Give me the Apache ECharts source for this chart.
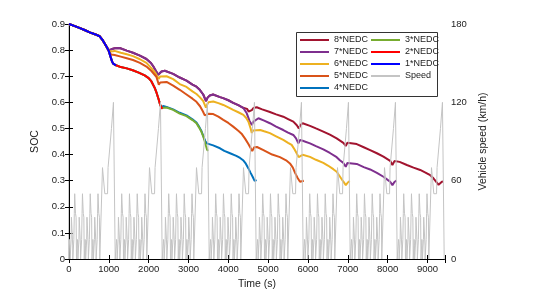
<!DOCTYPE html>
<html>
<head>
<meta charset="utf-8">
<script src="https://cdn.jsdelivr.net/npm/echarts@6/dist/echarts.min.js"></script>
<style>html,body{margin:0;padding:0;background:#fff}#c{width:546px;height:302px}</style>
</head>
<body>
<div id="c"></div>
<script>
// ---- SOC data: [time (s), SOC] ----
const socStart = [[0,0.900],[130,0.893],[260,0.885],[390,0.877],[520,0.868],[650,0.861],[770,0.853],[850,0.837],[940,0.814]];
const soc1 = [[1000,0.796],[1040,0.776],[1080,0.757],[1110,0.748],[1150,0.744],[1180,0.742]];
const soc2 = [[1300,0.735],[1450,0.730],[1600,0.723],[1750,0.714],[1900,0.703],[2000,0.693],[2070,0.680],[2150,0.656],[2200,0.636],[2250,0.612],[2290,0.590],[2330,0.578],[2350,0.576]];
const soc3 = [[2360,0.584],[2450,0.580],[2615,0.571],[2780,0.557],[2950,0.547],[3100,0.532],[3200,0.520],[3260,0.505],[3325,0.487],[3370,0.470],[3409,0.450],[3440,0.433],[3467,0.419],[3490,0.414]];
const soc4 = [[2360,0.586],[2450,0.582],[2615,0.573],[2780,0.560],[2950,0.550],[3100,0.535],[3200,0.523],[3260,0.508],[3325,0.490],[3380,0.468],[3420,0.452],[3460,0.443],[3500,0.440],[3540,0.439],[3620,0.435],[3791,0.424],[3900,0.414],[4043,0.405],[4200,0.395],[4295,0.387],[4380,0.377],[4440,0.365],[4505,0.347],[4560,0.330],[4620,0.312],[4660,0.299],[4690,0.300],[4710,0.302]];
const soc5 = [[1000,0.795],[1060,0.783],[1100,0.780],[1146,0.781],[1300,0.775],[1450,0.769],[1607,0.762],[1780,0.751],[1944,0.737],[2070,0.720],[2193,0.698],[2255,0.668],[2290,0.676],[2322,0.683],[2450,0.678],[2615,0.664],[2780,0.648],[2950,0.630],[3100,0.614],[3200,0.602],[3290,0.585],[3360,0.566],[3409,0.550],[3440,0.543],[3497,0.556],[3622,0.555],[3750,0.545],[3874,0.533],[4000,0.521],[4122,0.507],[4250,0.491],[4332,0.480],[4420,0.461],[4500,0.441],[4560,0.425],[4600,0.413],[4650,0.428],[4720,0.429],[4882,0.417],[5100,0.400],[5296,0.390],[5450,0.378],[5547,0.366],[5620,0.350],[5673,0.331],[5740,0.310],[5800,0.296],[5850,0.295],[5895,0.300]];
const soc6 = [[1000,0.798],[1060,0.795],[1100,0.796],[1146,0.797],[1300,0.790],[1450,0.784],[1607,0.777],[1780,0.765],[1944,0.751],[2050,0.734],[2154,0.716],[2250,0.690],[2290,0.699],[2322,0.704],[2450,0.700],[2615,0.689],[2780,0.670],[2950,0.659],[3100,0.642],[3200,0.632],[3283,0.620],[3370,0.605],[3438,0.580],[3470,0.592],[3497,0.600],[3622,0.603],[3750,0.597],[3874,0.590],[4000,0.581],[4122,0.571],[4250,0.562],[4378,0.552],[4450,0.540],[4505,0.526],[4560,0.500],[4589,0.483],[4620,0.492],[4647,0.498],[4799,0.494],[4900,0.489],[5044,0.482],[5200,0.470],[5380,0.456],[5500,0.445],[5590,0.437],[5660,0.420],[5716,0.405],[5765,0.390],[5800,0.397],[5866,0.399],[6050,0.391],[6200,0.380],[6385,0.368],[6500,0.358],[6636,0.344],[6720,0.334],[6805,0.315],[6880,0.298],[6950,0.283],[7000,0.293],[7048,0.298]];
const soc78 = [[1000,0.800],[1060,0.803],[1100,0.806],[1146,0.807],[1272,0.808],[1450,0.798],[1607,0.790],[1780,0.779],[1944,0.766],[2050,0.752],[2111,0.739],[2180,0.721],[2240,0.706],[2280,0.713],[2322,0.718],[2405,0.721],[2615,0.709],[2780,0.695],[2950,0.683],[3100,0.668],[3200,0.660],[3283,0.648],[3370,0.630],[3440,0.605],[3480,0.618],[3535,0.626],[3618,0.630],[3791,0.620],[3870,0.616],[4000,0.608],[4122,0.598],[4250,0.589],[4373,0.579],[4420,0.578]];
const soc7 = [[4463,0.558],[4530,0.530],[4589,0.513],[4630,0.526],[4756,0.539],[4900,0.530],[5044,0.520],[5200,0.507],[5380,0.494],[5500,0.484],[5632,0.475],[5700,0.462],[5758,0.443],[5800,0.456],[5866,0.453],[6050,0.443],[6200,0.432],[6385,0.420],[6550,0.406],[6720,0.390],[6800,0.378],[6888,0.368],[6948,0.353],[6990,0.368],[7014,0.373],[7224,0.364],[7400,0.352],[7560,0.343],[7730,0.330],[7895,0.315],[8000,0.303],[8063,0.296],[8120,0.283],[8170,0.295],[8220,0.300]];
const soc8 = [[4470,0.575],[4510,0.565],[4547,0.558],[4590,0.570],[4630,0.578],[4714,0.581],[4850,0.573],[5044,0.563],[5200,0.554],[5380,0.545],[5500,0.536],[5632,0.526],[5720,0.512],[5770,0.500],[5810,0.513],[5866,0.520],[6050,0.510],[6200,0.500],[6385,0.488],[6550,0.476],[6720,0.462],[6888,0.445],[6948,0.433],[6990,0.445],[7014,0.449],[7224,0.440],[7400,0.428],[7560,0.417],[7730,0.405],[7895,0.392],[8063,0.376],[8120,0.360],[8170,0.375],[8188,0.379],[8300,0.372],[8482,0.360],[8650,0.350],[8817,0.341],[8950,0.331],[9069,0.321],[9150,0.309],[9194,0.302],[9240,0.292],[9278,0.284],[9320,0.290],[9362,0.296],[9390,0.297]];

// ---- Speed profile (one NEDC cycle): ECE urban part + EUDC part ----
const eceTimes  = [0, 11, 15, 23, 25, 28, 49, 54, 56, 61, 85, 93, 96, 117, 122, 124, 133, 135, 143, 155, 163, 176, 178, 188, 195];
const eceSpeeds = [0, 0, 15, 15, 10, 0, 0, 15, 15, 32, 32, 10, 0, 0, 15, 15, 35, 35, 50, 50, 35, 35, 32, 0, 0];
const eudcTimes  = [0, 20, 61, 111, 119, 188, 201, 251, 286, 316, 336, 346, 380, 400];
const eudcSpeeds = [0, 0, 70, 70, 50, 50, 70, 70, 100, 100, 120, 120, 0, 0];
const eceRepeats = 4, eceLength = 195, cycleLength = 1180, cycleCount = 8;

const names = ['8*NEDC','7*NEDC','6*NEDC','5*NEDC','4*NEDC','3*NEDC','2*NEDC','1*NEDC'];
const colors = ['#A2142F','#7E2F8E','#EDB120','#D95319','#0072BD','#77AC30','#FF0000','#0000FF'];

const socData = {
  '1*NEDC': socStart.concat(soc1),
  '2*NEDC': socStart.concat(soc1, soc2),
  '3*NEDC': socStart.concat(soc1, soc2, soc3),
  '4*NEDC': socStart.concat(soc1, soc2, soc4),
  '5*NEDC': socStart.concat(soc5),
  '6*NEDC': socStart.concat(soc6),
  '7*NEDC': socStart.concat(soc78, soc7),
  '8*NEDC': socStart.concat(soc78, soc8)
};

const speedData = [];
for (let c = 0; c < cycleCount; c++) {
  const base = c * cycleLength;
  for (let r = 0; r < eceRepeats; r++) {
    for (let i = 0; i < eceTimes.length; i++) speedData.push([base + r * eceLength + eceTimes[i], eceSpeeds[i]]);
  }
  for (let i = 0; i < eudcTimes.length; i++) speedData.push([base + eceRepeats * eceLength + eudcTimes[i], eudcSpeeds[i]]);
}

const FONT = 'Liberation Sans, Arial, sans-serif';
const chart = echarts.init(document.getElementById('c'), null, {renderer: 'canvas'});

const series = names.map((n, i) => ({
  name: n, type: 'line', data: socData[n], xAxisIndex: 0, yAxisIndex: 0,
  symbol: 'none', lineStyle: {width: 2, color: colors[i]}, itemStyle: {color: colors[i]},
  z: 2 + i * 0.01, animation: false
}));
series.push({
  name: 'Speed', type: 'line', data: speedData, xAxisIndex: 0, yAxisIndex: 1,
  symbol: 'none', lineStyle: {width: 1, color: '#c4c4c4'}, itemStyle: {color: '#c4c4c4'},
  z: 3, animation: false
});

const legendCommon = {
  orient: 'vertical', itemWidth: 29, itemHeight: 10, itemGap: 3, z: 100,
  itemStyle: {opacity: 0},
  textStyle: {fontFamily: FONT, fontSize: 9, color: '#222'}, selectedMode: false, padding: 0
};

chart.setOption({
  animation: false,
  grid: {left: 69, right: 101, top: 24, bottom: 43},
  xAxis: [{
    type: 'value', min: 0, max: 9440, interval: 1000, position: 'bottom',
    name: 'Time (s)', nameLocation: 'middle', nameGap: 12,
    nameTextStyle: {fontFamily: FONT, fontSize: 10.5, color: '#222'},
    axisLine: {lineStyle: {color: '#000', width: 1}},
    axisTick: {inside: true, length: 4, lineStyle: {color: '#000'}},
    axisLabel: {fontFamily: FONT, fontSize: 9.5, color: '#222', margin: 5,
      formatter: v => (v % 1000 === 0 ? String(v) : '')},
    splitLine: {show: false}
  }, {
    type: 'value', min: 0, max: 9440, interval: 1000, position: 'top',
    axisLine: {lineStyle: {color: '#000', width: 1}},
    axisTick: {inside: true, length: 4, lineStyle: {color: '#000'}},
    axisLabel: {show: false}, splitLine: {show: false}
  }],
  yAxis: [{
    type: 'value', min: 0, max: 0.9, interval: 0.1, position: 'left',
    name: 'SOC', nameLocation: 'middle', nameGap: 20,
    nameTextStyle: {fontFamily: FONT, fontSize: 10.5, color: '#222'},
    axisLine: {show: true, lineStyle: {color: '#bdbdbd', width: 1.5}},
    axisTick: {show: true, inside: true, length: 4, lineStyle: {color: '#000'}},
    axisLabel: {fontFamily: FONT, fontSize: 9.5, color: '#222', margin: 4,
      formatter: v => (Math.round(v * 10) / 10).toString()},
    splitLine: {show: false}
  }, {
    type: 'value', min: 0, max: 180, interval: 20, position: 'right',
    name: 'Vehicle speed (km/h)', nameLocation: 'middle', nameGap: 22.5, nameRotate: 90,
    nameTextStyle: {fontFamily: FONT, fontSize: 10.5, color: '#222'},
    axisLine: {show: true, lineStyle: {color: '#000', width: 1}},
    axisTick: {show: true, inside: true, length: 4, lineStyle: {color: '#000'}},
    axisLabel: {fontFamily: FONT, fontSize: 9.5, color: '#222', margin: 6,
      formatter: v => (v % 60 === 0 ? String(v) : '')},
    splitLine: {show: false}
  }],
  legend: [
    Object.assign({left: 299, top: 35.5, data: names.slice(0, 5)}, legendCommon),
    Object.assign({left: 370, top: 35.5, data: names.slice(5).concat(['Speed'])}, legendCommon)
  ],
  graphic: [{
    type: 'rect', shape: {x: 296.5, y: 32.5, width: 141, height: 64},
    style: {fill: '#fff', stroke: '#333', lineWidth: 1}, z: 10, silent: true
  }],
  series: series
});
</script>
</body>
</html>
